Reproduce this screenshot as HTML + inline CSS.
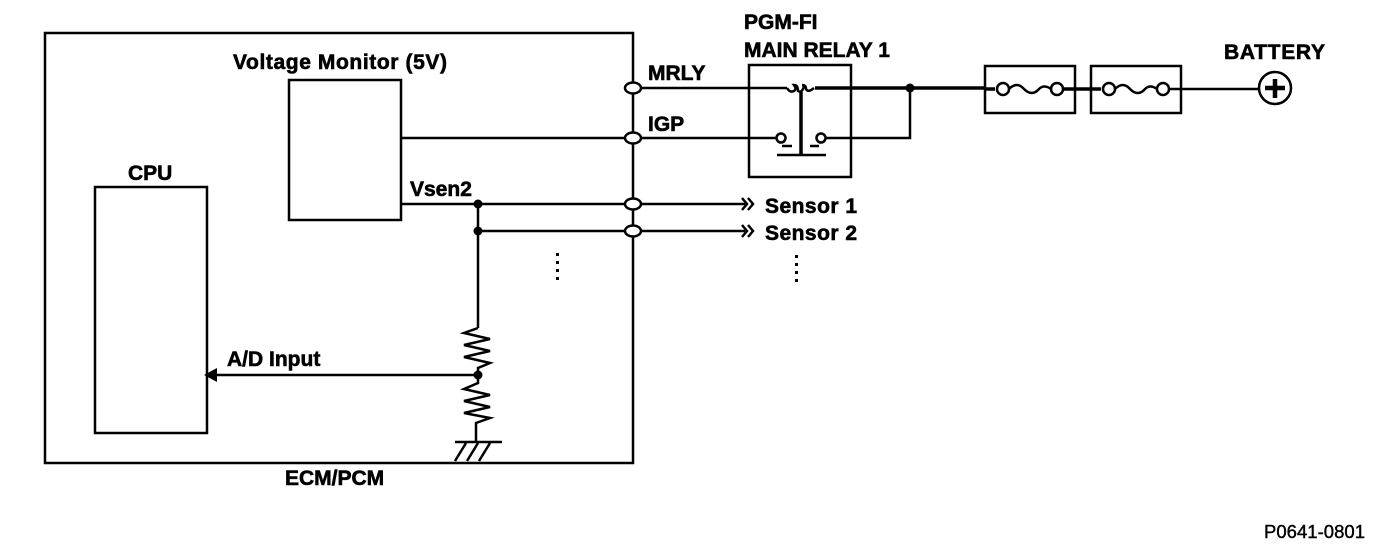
<!DOCTYPE html>
<html><head><style>
body{margin:0;background:#fff}
svg text{font-family:"Liberation Sans",Arial,sans-serif;font-weight:bold;font-size:21px;stroke:#000;stroke-width:0.6}
</style></head><body>
<svg width="1392" height="552" viewBox="0 0 1392 552" xmlns="http://www.w3.org/2000/svg">
<g fill="none" stroke="#000" stroke-width="2.5">
<rect x="45" y="33" width="588" height="430"/>
<rect x="289" y="80" width="112" height="140"/>
<rect x="95" y="187" width="112" height="246"/>
<rect x="749" y="65" width="102" height="112"/>
<rect x="985" y="66" width="90" height="47"/>
<rect x="1091" y="66" width="90" height="47"/>
<circle cx="1275" cy="88" r="16"/>
<line x1="641" y1="88" x2="787" y2="88"/>
<path d="M787 88 q3 5 7 3 q3-2 0-6 q4 0 4 6 q3 2 5-2 q2-4 -1-4 q4 0 4 4 q2 4 8 -1"/>
<line x1="815" y1="88" x2="985" y2="88" stroke-width="3.5"/>
<line x1="1075" y1="89" x2="1091" y2="89" stroke-width="3.5"/>
<line x1="1181" y1="89" x2="1259" y2="89"/>
<line x1="801" y1="92" x2="801" y2="155" stroke-width="3.5"/>
<line x1="777" y1="155" x2="826" y2="155"/>
<line x1="782" y1="146" x2="792" y2="146"/>
<line x1="810" y1="146" x2="819" y2="146"/>
<circle cx="781" cy="138" r="4.5"/>
<circle cx="821" cy="138" r="4.5"/>
<line x1="401" y1="138" x2="625" y2="138"/>
<line x1="641" y1="138" x2="777" y2="138"/>
<polyline points="825,138 910,138 910,88"/>
<line x1="985" y1="89" x2="995" y2="89" stroke-width="3.5"/>
<circle cx="1003" cy="89" r="6"/><circle cx="1057" cy="89" r="6"/>
<path d="M1009 89 q8-8 15 0 q8 8 15 0 q5-5 12 0"/>
<line x1="1063" y1="89" x2="1075" y2="89" stroke-width="3.5"/>
<line x1="1091" y1="89" x2="1101" y2="89" stroke-width="3.5"/>
<circle cx="1109" cy="89" r="6"/><circle cx="1163" cy="89" r="6"/>
<path d="M1115 89 q8-8 15 0 q8 8 15 0 q5-5 12 0"/>
<line x1="1169" y1="89" x2="1181" y2="89"/>
<line x1="1275" y1="79" x2="1275" y2="98" stroke-width="4.5"/>
<line x1="1265" y1="88" x2="1285" y2="88" stroke-width="4.5"/>
<line x1="401" y1="204" x2="625" y2="204"/>
<line x1="478" y1="231" x2="625" y2="231"/>
<line x1="641" y1="204" x2="745" y2="204"/>
<line x1="641" y1="231" x2="745" y2="231"/>
<line x1="478" y1="204" x2="478" y2="328"/>
<polyline points="478,328 464,333 490,339 464,345 490,351 464,357 490,363 478,368 478,383 464,389 490,395 464,401 490,407 464,413 490,418 476,423 476,441"/>
<line x1="455" y1="442" x2="502" y2="442"/>
<line x1="466" y1="443" x2="455" y2="461"/><line x1="478" y1="443" x2="467" y2="461"/><line x1="490" y1="443" x2="479" y2="461"/>
<line x1="215" y1="375" x2="478" y2="375"/>
<path d="M742 198 l5 6 -5 6 M748 198 l5 6 -5 6 M742 225 l5 6 -5 6 M748 225 l5 6 -5 6"/>
<g fill="#fff">
<ellipse cx="633" cy="88" rx="8" ry="5.5"/><ellipse cx="633" cy="138" rx="8" ry="5.5"/>
<ellipse cx="633" cy="204" rx="8" ry="5.5"/><ellipse cx="633" cy="231" rx="8" ry="5.5"/>
</g>
</g>
<g fill="#000">
<circle cx="910" cy="88" r="4.5"/><circle cx="478" cy="204" r="4.5"/><circle cx="478" cy="231" r="4.5"/><circle cx="478" cy="375" r="4.5"/>
<polygon points="204,375 217,368 217,382"/>
<rect x="556" y="253" width="3" height="3"/><rect x="556" y="261" width="3" height="3"/><rect x="556" y="269" width="3" height="3"/><rect x="556" y="277" width="3" height="3"/>
<rect x="795" y="255" width="3" height="3"/><rect x="795" y="263" width="3" height="3"/><rect x="795" y="271" width="3" height="3"/><rect x="795" y="279" width="3" height="3"/>
</g>
<text x="233" y="69" textLength="214">Voltage Monitor (5V)</text>
<text x="128" y="180">CPU</text>
<text x="410" y="196">Vsen2</text>
<text x="648" y="80">MRLY</text>
<text x="648" y="131">IGP</text>
<text x="744" y="29">PGM-FI</text>
<text x="744" y="57">MAIN RELAY 1</text>
<text x="1224" y="59" textLength="101">BATTERY</text>
<text x="765" y="213" textLength="92">Sensor 1</text>
<text x="765" y="240" textLength="92">Sensor 2</text>
<text x="227" y="366">A/D Input</text>
<text x="285" y="485">ECM/PCM</text>
<text x="1264" y="538" style="font-weight:normal;font-size:18.5px;stroke-width:0.4" textLength="101">P0641-0801</text>
</svg>
</body></html>
